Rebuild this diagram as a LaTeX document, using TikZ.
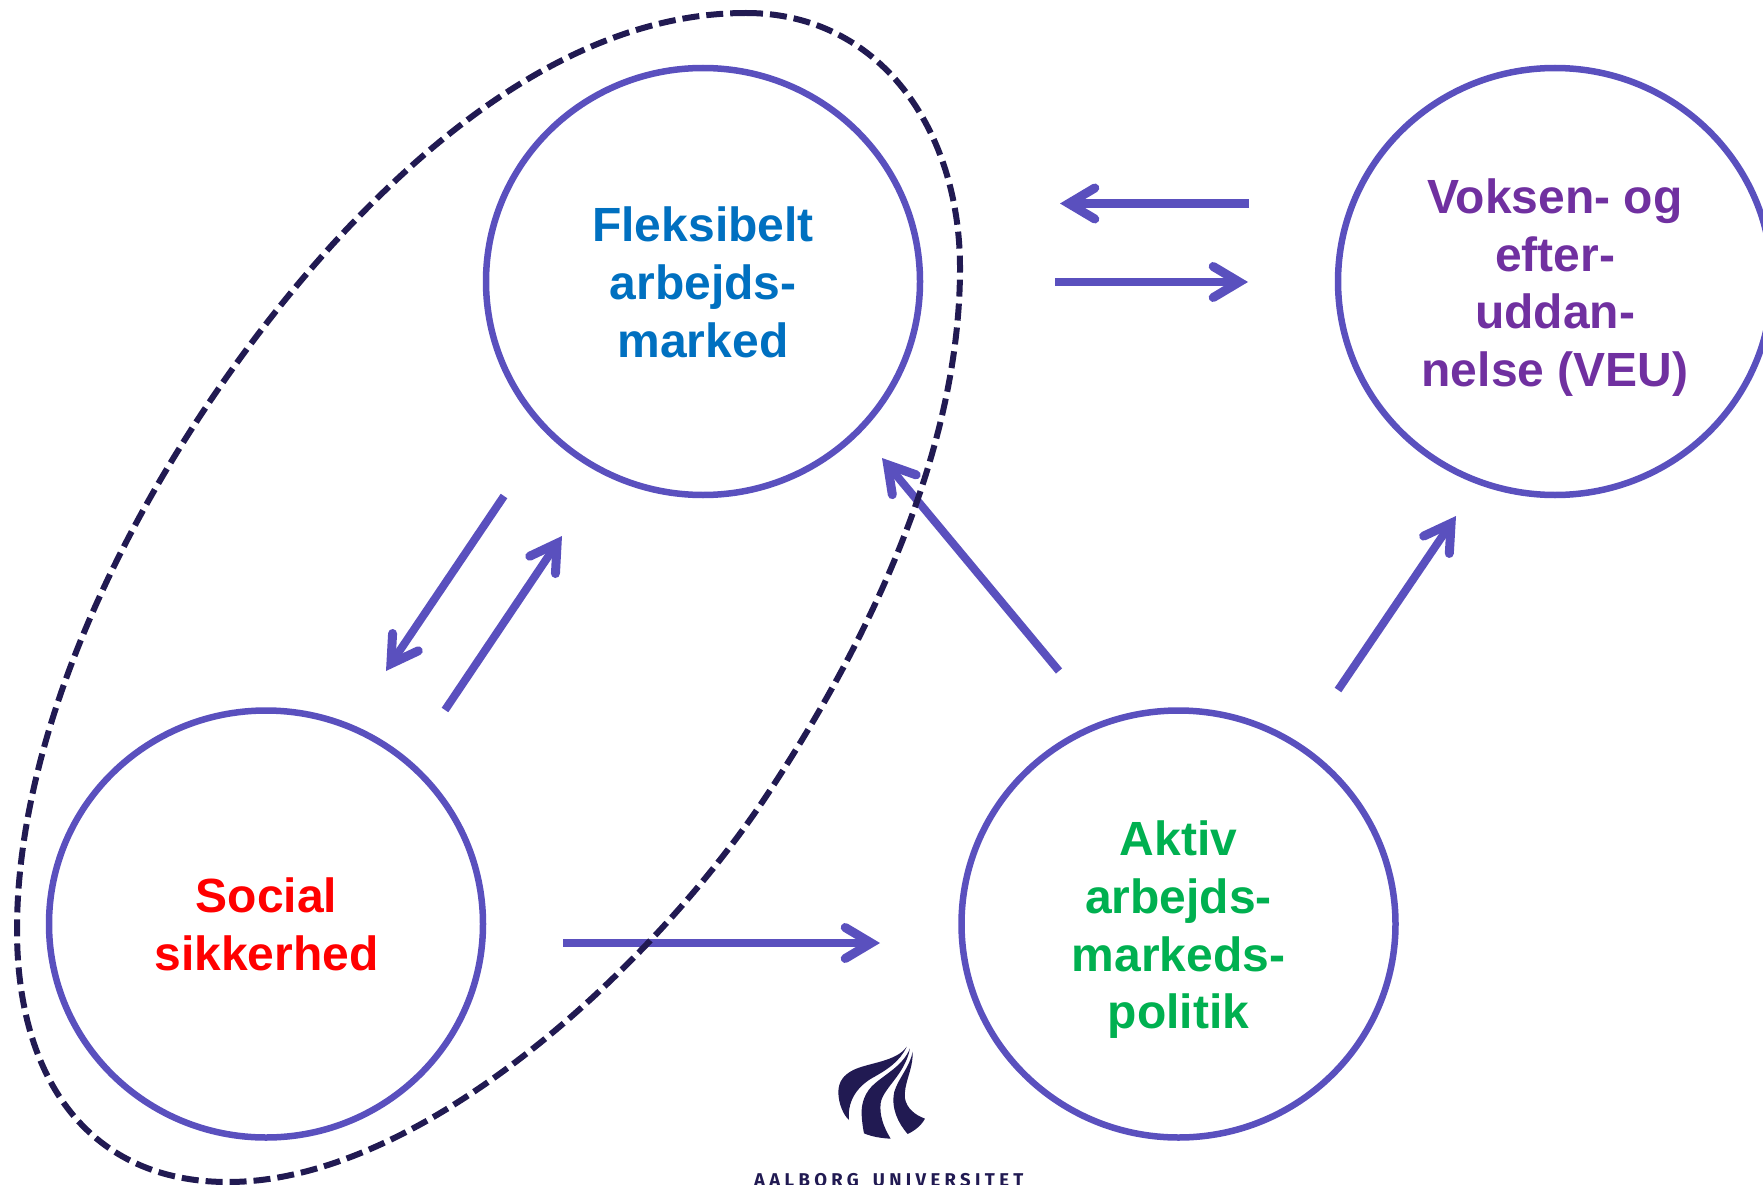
\documentclass[tikz,border=0pt]{standalone}
\usepackage{fontspec}
\setmainfont{Liberation Sans}
\newfontfamily\logofont[LetterSpace=23.5,WordSpace=1.6]{Fira Sans Bold}
\usetikzlibrary{arrows.meta,shapes.geometric}
\definecolor{circ}{HTML}{5A50BE}
\definecolor{aaudark}{HTML}{211A52}
\definecolor{tblue}{HTML}{0070C0}
\definecolor{tred}{HTML}{FF0000}
\definecolor{tgreen}{HTML}{00B050}
\definecolor{tpurple}{HTML}{7030A0}
\tikzset{
  topic/.style={ellipse,draw=circ,line width=6.5pt,minimum width=434pt,minimum height=427pt,inner sep=0pt,outer sep=0pt},
  topiclabel/.style={align=center,inner sep=0pt,font=\fontsize{48}{57.7}\selectfont\bfseries},
  link/.style={draw=circ,line width=8pt,-{Straight Barb[length=26pt,width=31pt,line width=9pt,line cap=round,line join=miter]}},
  grouping/.style={draw=aaudark,line width=6pt,dash pattern=on 17pt off 7pt},
  logofill/.style={fill=aaudark,draw=none}
}
\begin{document}
\begin{tikzpicture}[x=1pt,y=-1pt]
\useasboundingbox (0,0) rectangle (1763,1185);
\node[topic] (flex) at (703,281.5) {};
\node[topic] (veu) at (1555,281.5) {};
\node[topic] (soc) at (266,924) {};
\node[topic] (amp) at (1178.5,924) {};
\node[topiclabel,text=tblue] (flexl) at (703,282.5) {Fleksibelt\\arbejds-\\marked};
\node[topiclabel,text=tpurple] (veul) at (1555,287.5) {Voksen- og\\efter-\\uddan-\\nelse (VEU)};
\node[topiclabel,text=tred] (socl) at (266.5,924.5) {Social\\sikkerhed};
\node[topiclabel,text=tgreen] (ampl) at (1178.5,930) {Aktiv\\arbejds-\\markeds-\\politik};
\coordinate (a1s) at (1249,203.5); \coordinate (a1e) at (1060,203.5);
\coordinate (a2s) at (1055,282); \coordinate (a2e) at (1248,282);
\coordinate (a3s) at (504,496); \coordinate (a3e) at (386,671);
\coordinate (a4s) at (445,710); \coordinate (a4e) at (562,536);
\coordinate (a5s) at (1059,671); \coordinate (a5e) at (882,458);
\coordinate (a6s) at (1338,690); \coordinate (a6e) at (1456,516);
\coordinate (a7s) at (563,943); \coordinate (a7e) at (880,943);
\draw[link] (a1s) -- (a1e);
\draw[link] (a2s) -- (a2e);
\draw[link] (a3s) -- (a3e);
\draw[link] (a4s) -- (a4e);
\draw[link] (a5s) -- (a5e);
\draw[link] (a6s) -- (a6e);
\draw[link] (a7s) -- (a7e);
\draw[grouping] (746,13) .. controls (880,13) and (960,130) .. (960,268)
  .. controls (960,450) and (870,640) .. (765,798)
  .. controls (650,970) and (420,1182) .. (228,1182)
  .. controls (90,1182) and (17,1080) .. (17,930)
  .. controls (17,700) and (165,430) .. (332,245)
  .. controls (460,105) and (600,13) .. (746,13) -- cycle;
\begin{scope}[shift={(740,1020)},x=0.3333pt,y=-0.3333pt]
\fill[logofill] (500,80) .. controls (470,125) and (385,128) .. (340,150) .. controls (310,165) and (296,185) .. (295,215) .. controls (295,250) and (310,285) .. (327,300) .. controls (322,250) and (345,205) .. (395,175) .. controls (440,150) and (480,125) .. (500,80) -- cycle;
\fill[logofill] (510,85) .. controls (490,135) and (440,160) .. (405,190) .. controls (375,215) and (363,250) .. (365,285) .. controls (366,305) and (369,325) .. (372,340) .. controls (395,350) and (425,355) .. (452,356) .. controls (430,320) and (418,285) .. (422,250) .. controls (428,205) and (495,165) .. (510,85) -- cycle;
\fill[logofill] (518,95) .. controls (510,140) and (475,175) .. (463,215) .. controls (452,265) and (475,310) .. (503,342) .. controls (525,332) and (545,315) .. (555,296) .. controls (525,285) and (500,265) .. (495,235) .. controls (490,190) and (520,150) .. (518,95) -- cycle;
\end{scope}
\node[anchor=base west,inner sep=0pt,text=aaudark,font=\logofont\fontsize{18.5}{20}\selectfont] (aau) at (754,1186) {AALBORG UNIVERSITET};
\end{tikzpicture}
\end{document}
